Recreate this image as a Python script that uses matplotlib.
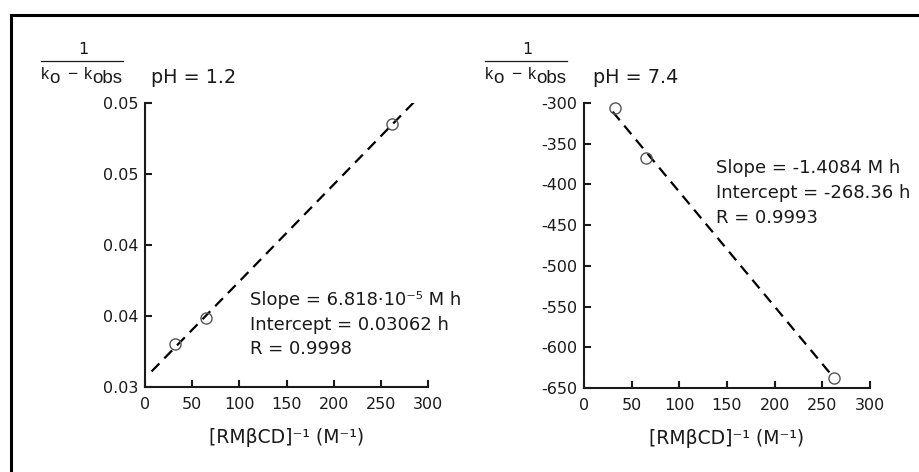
import matplotlib
matplotlib.use("Agg")
import matplotlib.pyplot as plt
import numpy as np
from matplotlib.lines import Line2D

plt.rcParams['font.family'] = ['DejaVu Sans']
plt.rcParams['axes.unicode_minus'] = False

# ---- data ----
conc_inv = [32, 65, 262]                      # [RMβCD]^-1 (M^-1)
y_ph12 = [0.03303, 0.03487, 0.04852]          # 1/(ko-kobs), pH 1.2
y_ph74 = [-306, -367, -638]                   # 1/(ko-kobs), pH 7.4
fit_ph12 = [6.818e-5, 0.03062]                # slope, intercept
fit_ph74 = [-1.4084, -268.36]
fit_range_ph12 = [7, 288]
fit_range_ph74 = [30, 262]
x_ticks = [0, 50, 100, 150, 200, 250, 300]
y_ticks_ph12 = [0.030, 0.035, 0.040, 0.045, 0.050]
y_ticklabels_ph12 = ["0.03", "0.04", "0.04", "0.05", "0.05"]
y_ticks_ph74 = [-650, -600, -550, -500, -450, -400, -350, -300]
titles = ["pH = 1.2", "pH = 7.4"]
stats_ph12 = ["Slope = 6.818·10⁻⁵ M h", "Intercept = 0.03062 h", "R = 0.9998"]
stats_ph74 = ["Slope = -1.4084 M h", "Intercept = -268.36 h", "R = 0.9993"]
xlabel = "[RMβCD]⁻¹ (M⁻¹)"

W, H = 920, 472
fig = plt.figure(figsize=(W / 100, H / 100), dpi=100)


def fx(x):
    return x / W


def fy(y):
    return 1 - y / H


ax1 = fig.add_axes([fx(145), fy(387), (428 - 145) / W, (387 - 103) / H])
ax2 = fig.add_axes([fx(584), fy(388), (870 - 584) / W, (388 - 103) / H])

TXT = '#1a1a1a'
LAB = ['Liberation Sans', 'DejaVu Sans']

for ax, ys, fit, fr in [(ax1, y_ph12, fit_ph12, fit_range_ph12),
                        (ax2, y_ph74, fit_ph74, fit_range_ph74)]:
    xf = np.array(fr, dtype=float)
    ax.plot(xf, fit[0] * xf + fit[1], color='black', lw=1.6,
            linestyle=(0, (5.0, 3.2)), zorder=2)
    ax.plot(conc_inv, ys, linestyle='none', marker='o', ms=8,
            mfc='none', mec='#555555', mew=1.0, zorder=3, clip_on=False)
    for s in ['top', 'right']:
        ax.spines[s].set_visible(False)
    for s in ['left', 'bottom']:
        ax.spines[s].set_linewidth(1.5)
        ax.spines[s].set_color('#1a1a1a')
    ax.set_xlim(0, 300)
    ax.set_xticks(x_ticks)
    ax.tick_params(direction='in', length=5, width=1.5, colors='#1a1a1a',
                   labelsize=11.5, labelcolor=TXT)
    ax.tick_params(axis='x', pad=7)
    ax.tick_params(axis='y', pad=5)
    ax.set_xlabel(xlabel, fontsize=13.5, color=TXT, labelpad=12)
    ax.patch.set_alpha(0)

ax1.set_ylim(0.030, 0.050)
ax1.set_yticks(y_ticks_ph12)
ax1.set_yticklabels(y_ticklabels_ph12)
ax2.set_ylim(-650, -300)
ax2.set_yticks(y_ticks_ph74)

# y-axis "1 / (ko - kobs)" labels and pH titles
for off, title in [(0, titles[0]), (444, titles[1])]:
    fig.text(fx(83 + off), fy(54), "1", fontsize=11.5, color=TXT,
             ha='center', va='baseline')
    fig.add_artist(Line2D([fx(41 + off), fx(123 + off)], [fy(61), fy(61)],
                          color=TXT, lw=0.9))
    fig.text(fx(41 + off), fy(79), "k", fontsize=11.5, color=TXT,
             va='baseline', family=LAB)
    fig.text(fx(49.5 + off), fy(83), "o", fontsize=13.5, color=TXT,
             va='baseline', family=LAB)
    fig.text(fx(72 + off), fy(79), "−", fontsize=12.5, color=TXT,
             ha='center', va='baseline', family=LAB)
    fig.text(fx(83.5 + off), fy(79), "k", fontsize=11.5, color=TXT,
             va='baseline', family=LAB)
    fig.text(fx(92.5 + off), fy(83), "obs", fontsize=13.5, color=TXT,
             va='baseline', family=LAB)
    fig.text(fx(151 + off - (2 if off else 0)), fy(83), title, fontsize=13.8,
             color=TXT, va='baseline')

# fit statistics
for i, s in enumerate(stats_ph12):
    fig.text(fx(250), fy(305 + 24.5 * i), s, fontsize=13, color=TXT, va='baseline')
for i, s in enumerate(stats_ph74):
    fig.text(fx(716), fy(173 + 25 * i), s, fontsize=13, color=TXT, va='baseline')

# outer frame (partially cropped)
fig.add_artist(Line2D([fx(11), fx(11)], [fy(15), 0], color='black', lw=2.2))
fig.add_artist(Line2D([fx(11), 1], [fy(15), fy(15)], color='black', lw=2.2))

fig.savefig("out.png", dpi=100)
